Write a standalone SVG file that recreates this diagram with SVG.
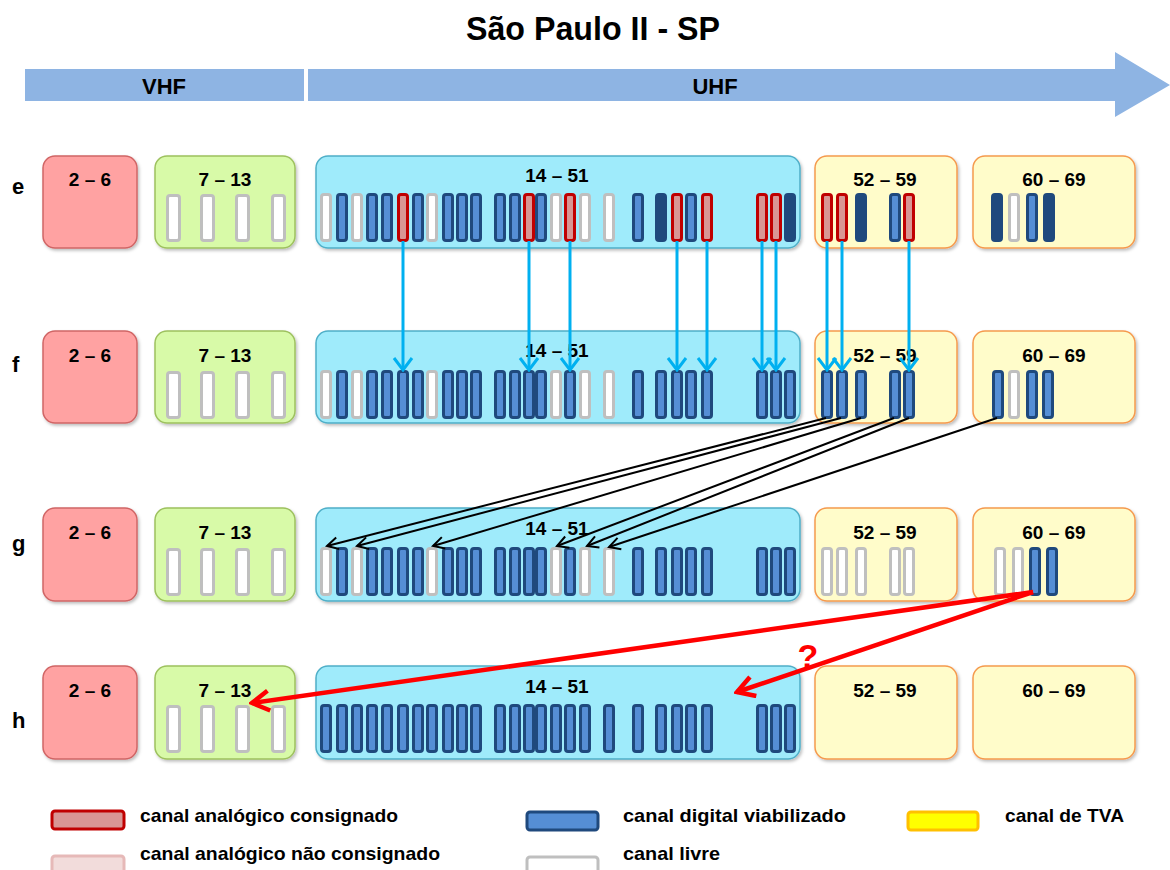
<svg xmlns="http://www.w3.org/2000/svg" width="1170" height="870" viewBox="0 0 1170 870">
<style>
text{font-family:"Liberation Sans",Arial,sans-serif;font-weight:bold;fill:#000}
.t{font-size:19px;text-anchor:middle}
.row{font-size:22px}
.box{stroke-width:1.5}
.r{fill:#FFA2A2;stroke:#D06565}
.gr{fill:#D8FAA8;stroke:#9DC15E}
.c{fill:#9FEBFB;stroke:#4FAFC8}
.y{fill:#FFFCCA;stroke:#F59A4E}
.band{fill:#8EB4E3}
.lg{font-size:19px}
.blue{stroke:#00B0F0;stroke-width:3;fill:none;marker-end:url(#mb)}
.blk{stroke:#000;stroke-width:2;fill:none;marker-end:url(#mk)}
.red{stroke:#FF0000;stroke-width:4.5;fill:none;marker-end:url(#mr)}
</style>
<defs>
<filter id="sh" x="-5%" y="-5%" width="115%" height="120%">
<feDropShadow dx="1.5" dy="2" stdDeviation="1.5" flood-color="#000" flood-opacity="0.25"/>
</filter>
<rect id="bd" x="1.5" y="1.5" width="9" height="46" rx="2.5" fill="#558ED5" stroke="#1F497D" stroke-width="3"/>
<rect id="bn" x="1.5" y="1.5" width="9" height="46" rx="2.5" fill="#1F497D" stroke="#1F497D" stroke-width="3"/>
<rect id="bl" x="1.5" y="1.5" width="9" height="46" rx="2.5" fill="#FFFFFF" stroke="#BFBFBF" stroke-width="3"/>
<rect id="ba" x="1.5" y="1.5" width="9" height="46" rx="2.5" fill="#D99694" stroke="#C00000" stroke-width="3"/>
<rect id="bw" x="1.5" y="1.5" width="12" height="45" rx="2.5" fill="#FFFFFF" stroke="#BFBFBF" stroke-width="3"/>
<marker id="mb" markerUnits="userSpaceOnUse" viewBox="-14 -11 16 22" refX="0" refY="0" markerWidth="16" markerHeight="22" orient="auto">
<path d="M-12,-9 L0,0 L-12,9" fill="none" stroke="#00B0F0" stroke-width="3"/>
</marker>
<marker id="mk" markerUnits="userSpaceOnUse" viewBox="-13 -8 15 16" refX="0" refY="0" markerWidth="15" markerHeight="16" orient="auto">
<path d="M-11,-6 L0,0 L-11,6" fill="none" stroke="#000" stroke-width="2"/>
</marker>
<marker id="mr" markerUnits="userSpaceOnUse" viewBox="-20 -12 23 24" refX="0" refY="0" markerWidth="23" markerHeight="24" orient="auto">
<path d="M-17,-10 L0,0 L-17,10" fill="none" stroke="#FF0000" stroke-width="4.5"/>
</marker>
</defs>
<rect width="1170" height="870" fill="#FFFFFF"/>
<g id="title">
<text x="593" y="40" font-size="34" text-anchor="middle" textLength="254" lengthAdjust="spacingAndGlyphs">São Paulo II - SP</text>
</g>
<g id="band">
<rect class="band" x="25" y="69" width="279" height="32"/>
<polygon class="band" points="308,69 1115,69 1115,52 1170,85 1115,117 1115,101 308,101"/>
<text x="164" y="94" font-size="22" text-anchor="middle">VHF</text>
<text x="715" y="94" font-size="22" text-anchor="middle">UHF</text>
</g>
<g id="rowlabels">
<text class="row" x="12" y="194">e</text>
<text class="row" x="12" y="372">f</text>
<text class="row" x="12" y="551">g</text>
<text class="row" x="12" y="728">h</text>
</g>
<!-- Row e -->
<g id="e-2-6"><rect class="box r" x="43" y="156" width="94" height="92" rx="12" filter="url(#sh)"/><text class="t" x="90" y="186">2 – 6</text></g>
<g id="e-7-13"><rect class="box gr" x="155" y="156" width="140" height="92" rx="12" filter="url(#sh)"/><text class="t" x="225" y="186">7 – 13</text>
<use href="#bw" x="166" y="194"/><use href="#bw" x="200" y="194"/><use href="#bw" x="235" y="194"/><use href="#bw" x="271" y="194"/></g>
<g id="e-14-51"><rect class="box c" x="316" y="156" width="484" height="92" rx="12" filter="url(#sh)"/><text class="t" x="557" y="182">14 – 51</text>
<use href="#bl" x="320" y="193"/><use href="#bd" x="336" y="193"/><use href="#bl" x="351" y="193"/><use href="#bd" x="366" y="193"/><use href="#bd" x="381" y="193"/><use href="#ba" x="397" y="193"/><use href="#bd" x="412" y="193"/><use href="#bl" x="426" y="193"/><use href="#bd" x="442" y="193"/><use href="#bd" x="456" y="193"/><use href="#bd" x="470" y="193"/><use href="#bd" x="494" y="193"/><use href="#bd" x="509" y="193"/><use href="#ba" x="523" y="193"/><use href="#bd" x="535" y="193"/><use href="#bl" x="550" y="193"/><use href="#ba" x="564" y="193"/><use href="#bl" x="579" y="193"/><use href="#bl" x="603" y="193"/><use href="#bd" x="632" y="193"/><use href="#bn" x="655" y="193"/><use href="#ba" x="671" y="193"/><use href="#bd" x="685" y="193"/><use href="#ba" x="701" y="193"/><use href="#ba" x="756" y="193"/><use href="#ba" x="770" y="193"/><use href="#bn" x="784" y="193"/></g>
<g id="e-52-59"><rect class="box y" x="815" y="156" width="142" height="92" rx="12" filter="url(#sh)"/><text class="t" x="885" y="186">52 – 59</text>
<use href="#ba" x="821" y="193"/><use href="#ba" x="836" y="193"/><use href="#bn" x="855" y="193"/><use href="#bd" x="889" y="193"/><use href="#ba" x="903" y="193"/></g>
<g id="e-60-69"><rect class="box y" x="973" y="156" width="162" height="92" rx="12" filter="url(#sh)"/><text class="t" x="1054" y="186">60 – 69</text>
<use href="#bn" x="991" y="193"/><use href="#bl" x="1008" y="193"/><use href="#bd" x="1026" y="193"/><use href="#bn" x="1043" y="193"/></g>
<!-- Row f -->
<g id="f-2-6"><rect class="box r" x="43" y="331" width="94" height="92" rx="12" filter="url(#sh)"/><text class="t" x="90" y="362">2 – 6</text></g>
<g id="f-7-13"><rect class="box gr" x="155" y="331" width="140" height="92" rx="12" filter="url(#sh)"/><text class="t" x="225" y="362">7 – 13</text>
<use href="#bw" x="166" y="371"/><use href="#bw" x="200" y="371"/><use href="#bw" x="235" y="371"/><use href="#bw" x="271" y="371"/></g>
<g id="f-14-51"><rect class="box c" x="316" y="331" width="484" height="92" rx="12" filter="url(#sh)"/><text class="t" x="557" y="357">14 – 51</text>
<use href="#bl" x="320" y="370"/><use href="#bd" x="336" y="370"/><use href="#bl" x="351" y="370"/><use href="#bd" x="366" y="370"/><use href="#bd" x="381" y="370"/><use href="#bd" x="397" y="370"/><use href="#bd" x="412" y="370"/><use href="#bl" x="426" y="370"/><use href="#bd" x="442" y="370"/><use href="#bd" x="456" y="370"/><use href="#bd" x="470" y="370"/><use href="#bd" x="494" y="370"/><use href="#bd" x="509" y="370"/><use href="#bd" x="523" y="370"/><use href="#bd" x="535" y="370"/><use href="#bl" x="550" y="370"/><use href="#bd" x="564" y="370"/><use href="#bl" x="579" y="370"/><use href="#bl" x="603" y="370"/><use href="#bd" x="632" y="370"/><use href="#bd" x="655" y="370"/><use href="#bd" x="671" y="370"/><use href="#bd" x="685" y="370"/><use href="#bd" x="701" y="370"/><use href="#bd" x="756" y="370"/><use href="#bd" x="770" y="370"/><use href="#bd" x="784" y="370"/></g>
<g id="f-52-59"><rect class="box y" x="815" y="331" width="142" height="92" rx="12" filter="url(#sh)"/><text class="t" x="885" y="362">52 – 59</text>
<use href="#bd" x="821" y="370"/><use href="#bd" x="836" y="370"/><use href="#bd" x="855" y="370"/><use href="#bd" x="889" y="370"/><use href="#bd" x="903" y="370"/></g>
<g id="f-60-69"><rect class="box y" x="973" y="331" width="162" height="92" rx="12" filter="url(#sh)"/><text class="t" x="1054" y="362">60 – 69</text>
<use href="#bd" x="992" y="370"/><use href="#bl" x="1008" y="370"/><use href="#bd" x="1026" y="370"/><use href="#bd" x="1042" y="370"/></g>
<!-- Row g -->
<g id="g-2-6"><rect class="box r" x="43" y="508" width="94" height="93" rx="12" filter="url(#sh)"/><text class="t" x="90" y="539">2 – 6</text></g>
<g id="g-7-13"><rect class="box gr" x="155" y="508" width="140" height="93" rx="12" filter="url(#sh)"/><text class="t" x="225" y="539">7 – 13</text>
<use href="#bw" x="166" y="548"/><use href="#bw" x="200" y="548"/><use href="#bw" x="235" y="548"/><use href="#bw" x="271" y="548"/></g>
<g id="g-14-51"><rect class="box c" x="316" y="508" width="484" height="93" rx="12" filter="url(#sh)"/><text class="t" x="557" y="535">14 – 51</text>
<use href="#bl" x="320" y="547"/><use href="#bd" x="336" y="547"/><use href="#bl" x="351" y="547"/><use href="#bd" x="366" y="547"/><use href="#bd" x="381" y="547"/><use href="#bd" x="397" y="547"/><use href="#bd" x="412" y="547"/><use href="#bl" x="426" y="547"/><use href="#bd" x="442" y="547"/><use href="#bd" x="456" y="547"/><use href="#bd" x="470" y="547"/><use href="#bd" x="494" y="547"/><use href="#bd" x="509" y="547"/><use href="#bd" x="523" y="547"/><use href="#bd" x="535" y="547"/><use href="#bl" x="550" y="547"/><use href="#bd" x="564" y="547"/><use href="#bl" x="579" y="547"/><use href="#bl" x="603" y="547"/><use href="#bd" x="632" y="547"/><use href="#bd" x="655" y="547"/><use href="#bd" x="671" y="547"/><use href="#bd" x="685" y="547"/><use href="#bd" x="701" y="547"/><use href="#bd" x="756" y="547"/><use href="#bd" x="770" y="547"/><use href="#bd" x="784" y="547"/></g>
<g id="g-52-59"><rect class="box y" x="815" y="508" width="142" height="93" rx="12" filter="url(#sh)"/><text class="t" x="885" y="539">52 – 59</text>
<use href="#bl" x="821" y="547"/><use href="#bl" x="836" y="547"/><use href="#bl" x="855" y="547"/><use href="#bl" x="889" y="547"/><use href="#bl" x="903" y="547"/></g>
<g id="g-60-69"><rect class="box y" x="973" y="508" width="162" height="93" rx="12" filter="url(#sh)"/><text class="t" x="1054" y="539">60 – 69</text>
<use href="#bl" x="994" y="547"/><use href="#bl" x="1012" y="547"/><use href="#bd" x="1029" y="547"/><use href="#bd" x="1046" y="547"/></g>
<!-- Row h -->
<g id="h-2-6"><rect class="box r" x="43" y="666" width="94" height="93" rx="12" filter="url(#sh)"/><text class="t" x="90" y="697">2 – 6</text></g>
<g id="h-7-13"><rect class="box gr" x="155" y="666" width="140" height="93" rx="12" filter="url(#sh)"/><text class="t" x="225" y="697">7 – 13</text>
<use href="#bw" x="166" y="705"/><use href="#bw" x="200" y="705"/><use href="#bw" x="235" y="705"/><use href="#bw" x="271" y="705"/></g>
<g id="h-14-51"><rect class="box c" x="316" y="666" width="484" height="93" rx="12" filter="url(#sh)"/><text class="t" x="557" y="693">14 – 51</text>
<use href="#bd" x="320" y="704"/><use href="#bd" x="336" y="704"/><use href="#bd" x="351" y="704"/><use href="#bd" x="366" y="704"/><use href="#bd" x="381" y="704"/><use href="#bd" x="397" y="704"/><use href="#bd" x="412" y="704"/><use href="#bd" x="426" y="704"/><use href="#bd" x="442" y="704"/><use href="#bd" x="456" y="704"/><use href="#bd" x="470" y="704"/><use href="#bd" x="494" y="704"/><use href="#bd" x="509" y="704"/><use href="#bd" x="523" y="704"/><use href="#bd" x="535" y="704"/><use href="#bd" x="550" y="704"/><use href="#bd" x="564" y="704"/><use href="#bd" x="579" y="704"/><use href="#bd" x="603" y="704"/><use href="#bd" x="632" y="704"/><use href="#bd" x="655" y="704"/><use href="#bd" x="671" y="704"/><use href="#bd" x="685" y="704"/><use href="#bd" x="701" y="704"/><use href="#bd" x="756" y="704"/><use href="#bd" x="770" y="704"/><use href="#bd" x="784" y="704"/></g>
<g id="h-52-59"><rect class="box y" x="815" y="666" width="142" height="93" rx="12" filter="url(#sh)"/><text class="t" x="885" y="697">52 – 59</text></g>
<g id="h-60-69"><rect class="box y" x="973" y="666" width="162" height="93" rx="12" filter="url(#sh)"/><text class="t" x="1054" y="697">60 – 69</text></g>
<!-- Connectors -->
<g id="connectors">
<line class="blue" x1="403" y1="241" x2="403" y2="370"/>
<line class="blue" x1="529" y1="241" x2="529" y2="370"/>
<line class="blue" x1="570" y1="241" x2="570" y2="370"/>
<line class="blue" x1="677" y1="241" x2="677" y2="370"/>
<line class="blue" x1="707" y1="241" x2="707" y2="370"/>
<line class="blue" x1="762" y1="241" x2="762" y2="370"/>
<line class="blue" x1="776" y1="241" x2="776" y2="370"/>
<line class="blue" x1="827" y1="241" x2="827" y2="370"/>
<line class="blue" x1="842" y1="241" x2="842" y2="370"/>
<line class="blue" x1="909" y1="241" x2="909" y2="370"/>
<line class="blk" x1="826" y1="418" x2="327" y2="546"/>
<line class="blk" x1="841" y1="418" x2="357" y2="546"/>
<line class="blk" x1="861" y1="418" x2="433" y2="546"/>
<line class="blk" x1="894" y1="418" x2="557" y2="546"/>
<line class="blk" x1="909" y1="418" x2="587" y2="546"/>
<line class="blk" x1="997" y1="418" x2="609" y2="547"/>
<line class="red" x1="1033" y1="592" x2="252" y2="703"/>
<line class="red" x1="1033" y1="592" x2="737" y2="692"/>
<text x="808" y="668" font-size="34" text-anchor="middle" style="fill:#FF0000">?</text>
</g>
<!-- Legend -->
<g id="legend">
<rect x="52" y="811" width="72" height="18" rx="3" fill="#D99694" stroke="#C00000" stroke-width="3"/>
<text class="lg" x="140" y="822" textLength="258" lengthAdjust="spacingAndGlyphs">canal analógico consignado</text>
<rect x="52" y="856" width="72" height="22" rx="3" fill="#F2DCDB" stroke="#E6B9B8" stroke-width="3"/>
<text class="lg" x="140" y="860" textLength="300" lengthAdjust="spacingAndGlyphs">canal analógico não consignado</text>
<rect x="527" y="812" width="71" height="18" rx="3" fill="#558ED5" stroke="#1F497D" stroke-width="3"/>
<text class="lg" x="623" y="822" textLength="223" lengthAdjust="spacingAndGlyphs">canal digital viabilizado</text>
<rect x="527" y="857" width="71" height="22" rx="3" fill="#FFFFFF" stroke="#BFBFBF" stroke-width="3"/>
<text class="lg" x="623" y="860" textLength="97" lengthAdjust="spacingAndGlyphs">canal livre</text>
<rect x="908" y="812" width="70" height="18" rx="3" fill="#FFFF00" stroke="#FFC000" stroke-width="3"/>
<text class="lg" x="1005" y="822" textLength="119" lengthAdjust="spacingAndGlyphs">canal de TVA</text>
</g>
</svg>
